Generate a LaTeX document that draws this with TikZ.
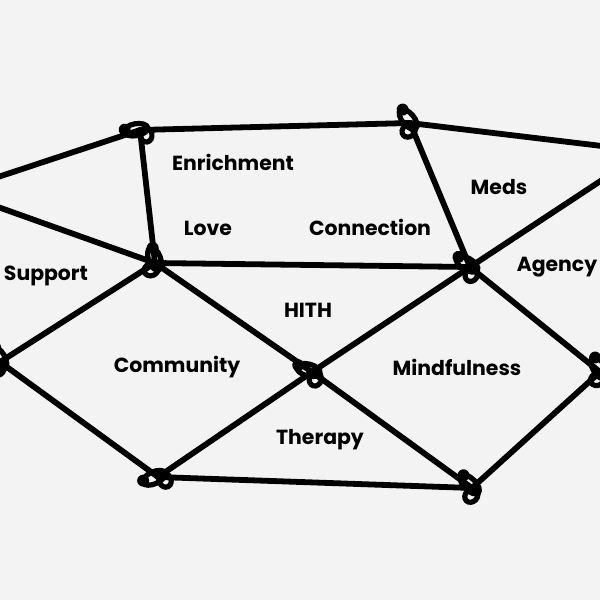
\documentclass[tikz,border=0pt]{standalone}
\usepackage{fontspec}
\setmainfont{Poppins}[BoldFont={Poppins Bold}]
\definecolor{bg}{HTML}{F3F3F3}
\tikzset{
  edge/.style={line width=2.9pt, line cap=round},
  knotline/.style={line width=2.6pt},
  lbl/.style={font=\bfseries\fontsize{10.2}{12}\selectfont, text=black, inner sep=0pt},
}
\newcommand{\myknot}[2]{%
  \begin{scope}[shift={(#1)}, rotate=#2]
    \draw[knotline] (-4,-1) ellipse [x radius=12, y radius=6];
    \draw[knotline] (5,6) ellipse [x radius=6, y radius=7];
    \fill (-15,-3) circle [radius=6];
  \end{scope}}
\begin{document}
\begin{tikzpicture}[x=0.5pt, y=-0.5pt]
  \fill[bg] (0,0) rectangle (600,600);
  \useasboundingbox (0,0) rectangle (600,600);
  \begin{scope}
  \clip (0,0) rectangle (600,600);
  % vertices
  \coordinate (A) at (140,130);
  \coordinate (B) at (410,123);
  \coordinate (C) at (155,263);
  \coordinate (D) at (470,267);
  \coordinate (E) at (312,372);
  \coordinate (F) at (158,477);
  \coordinate (G) at (472,488);
  \coordinate (L1) at (-2,177);
  \coordinate (L2) at (-2,207);
  \coordinate (L3) at (0,362);
  \coordinate (R1) at (602,146);
  \coordinate (R2) at (602,180);
  \coordinate (R3) at (600,372);
  % edges
  \draw[edge] (A) -- (B);
  \draw[edge] (A) -- (C);
  \draw[edge] (A) -- (L1);
  \draw[edge] (L2) -- (C);
  \draw[edge] (C) -- (D);
  \draw[edge] (B) -- (D);
  \draw[edge] (B) -- (R1);
  \draw[edge] (D) -- (R2);
  \draw[edge] (C) -- (E);
  \draw[edge] (D) -- (E);
  \draw[edge] (C) -- (L3);
  \draw[edge] (L3) -- (F);
  \draw[edge] (E) -- (F);
  \draw[edge] (E) -- (G);
  \draw[edge] (F) -- (G);
  \draw[edge] (D) -- (R3);
  \draw[edge] (G) -- (R3);
  % knots
  \myknot{A}{10}
  \myknot{B}{-50}
  \myknot{C}{-70}
  \myknot{D}{-30}
  \myknot{E}{-15}
  \myknot{F}{25}
  \myknot{G}{-45}
  \myknot{L3}{-60}
  \myknot{R3}{-60}
  \end{scope}
  % labels
  \node[lbl] (enr) at (233,162) {Enrichment};
  \node[lbl] (med) at (499,187) {Meds};
  \node[lbl] (lov) at (208,228) {Love};
  \node[lbl] (con) at (370,227) {Connection};
  \node[lbl] (sup) at (46,276) {Support};
  \node[lbl] (age) at (557,267) {Agency};
  \node[lbl] (hit) at (308,310) {HITH};
  \node[lbl] (com) at (177,367) {Community};
  \node[lbl] (min) at (457,367) {Mindfulness};
  \node[lbl] (the) at (320,440) {Therapy};
\end{tikzpicture}
\end{document}
